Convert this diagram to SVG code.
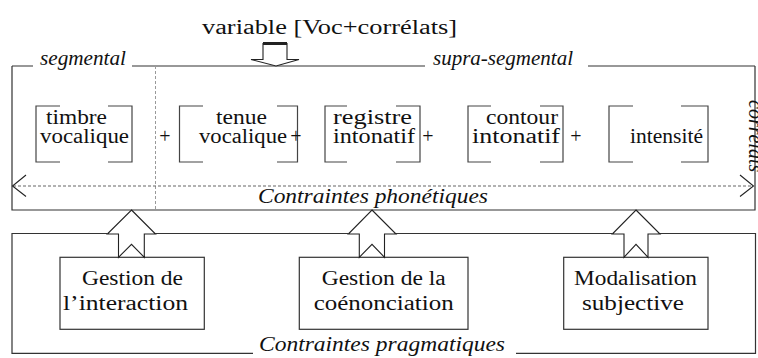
<svg xmlns="http://www.w3.org/2000/svg" width="758" height="358" viewBox="0 0 758 358">
<style>
.t{font-size:20px;fill:#111}
.it{font-style:italic}
.fr{fill:none;stroke:#333;stroke-width:1.2}
.br{fill:none;stroke:#444;stroke-width:1.2}
.box{fill:#fff;stroke:#333;stroke-width:1.2}
.blk{fill:#fff;stroke:#222;stroke-width:1.1;stroke-linejoin:miter}
.dash{fill:none;stroke:#999;stroke-width:1;stroke-dasharray:3 2}
.dot{fill:none;stroke:#666;stroke-width:1.2;stroke-dasharray:3 2}
.ah{fill:none;stroke:#222;stroke-width:1.1}
</style>
<g font-family="'Liberation Serif', 'Times New Roman', serif">
<g id="title">
<text class="t" x="202" y="34" textLength="255" lengthAdjust="spacingAndGlyphs">variable [Voc+corrélats]</text>
</g>

<g id="phonetic-frame">
<path class="fr" d="M12,66 H33 M132,66 H425 M588,66 H755 M12,66 V210 H755 V66"/>
<line class="dash" x1="155.5" y1="66" x2="155.5" y2="210"/>
<text class="t it" x="40" y="65" font-size="18" textLength="86" lengthAdjust="spacingAndGlyphs">segmental</text>
<text class="t it" x="433" y="65" font-size="18" textLength="140" lengthAdjust="spacingAndGlyphs">supra-segmental</text>
<text class="t it" x="258" y="203" textLength="230" lengthAdjust="spacingAndGlyphs">Contraintes phonétiques</text>
<text class="t it" transform="translate(749,100) rotate(90)">corrélats</text>
</g>

<g id="timbre">
<path class="br" d="M60,106 H36 V162 H60 M108,106 H132 V162 H108"/>
<text class="t" x="46" y="124" textLength="61" lengthAdjust="spacingAndGlyphs">timbre</text>
<text class="t" x="40" y="143" textLength="89" lengthAdjust="spacingAndGlyphs">vocalique</text>
</g>
<text class="t" x="165" y="143" text-anchor="middle">+</text>

<g id="tenue">
<path class="br" d="M203,106 H179.5 V162 H203 M277,106 H297.5 V162 H277"/>
<text class="t" x="216" y="124" textLength="51" lengthAdjust="spacingAndGlyphs">tenue</text>
<text class="t" x="199" y="143" textLength="88" lengthAdjust="spacingAndGlyphs">vocalique</text>
</g>
<text class="t" x="296" y="143" text-anchor="middle">+</text>

<g id="registre">
<path class="br" d="M347,106 H325 V162 H347 M396,106 H420 V162 H396"/>
<text class="t" x="333" y="124" textLength="79" lengthAdjust="spacingAndGlyphs">registre</text>
<text class="t" x="333" y="143" textLength="82" lengthAdjust="spacingAndGlyphs">intonatif</text>
</g>
<text class="t" x="428" y="143" text-anchor="middle">+</text>

<g id="contour">
<path class="br" d="M491,106 H468 V162 H491 M540,106 H563 V162 H540"/>
<text class="t" x="486" y="124" textLength="72" lengthAdjust="spacingAndGlyphs">contour</text>
<text class="t" x="472" y="143" textLength="88" lengthAdjust="spacingAndGlyphs">intonatif</text>
</g>
<text class="t" x="576" y="143" text-anchor="middle">+</text>

<g id="intensite">
<path class="br" d="M633,106 H609 V162 H633 M681,106 H708 V162 H681"/>
<text class="t" x="630" y="143" textLength="73" lengthAdjust="spacingAndGlyphs">intensité</text>
</g>

<g id="pragmatic-frame">
<path class="fr" d="M107.3,233.5 H12 V353.3 H253 M516,353.3 H755.5 V233.5 H660 M612.3,233.5 H396 M348.3,233.5 H155"/>
<text class="t it" x="259" y="351" textLength="246" lengthAdjust="spacingAndGlyphs">Contraintes pragmatiques</text>
</g>

<g id="gestion-interaction">
<rect class="box" x="60" y="257.3" width="144.3" height="72"/>
<text class="t" x="82" y="285" textLength="101" lengthAdjust="spacingAndGlyphs">Gestion de</text>
<text class="t" x="63" y="310" textLength="125" lengthAdjust="spacingAndGlyphs">l’interaction</text>
</g>

<g id="gestion-coenonciation">
<rect class="box" x="299.3" y="257.3" width="168.7" height="72"/>
<text class="t" x="383.7" y="285" text-anchor="middle" textLength="124" lengthAdjust="spacingAndGlyphs">Gestion de la</text>
<text class="t" x="383.7" y="310" text-anchor="middle" textLength="140" lengthAdjust="spacingAndGlyphs">coénonciation</text>
</g>

<g id="modalisation">
<rect class="box" x="563.7" y="257.3" width="144.3" height="72"/>
<text class="t" x="574" y="285" textLength="123" lengthAdjust="spacingAndGlyphs">Modalisation</text>
<text class="t" x="582" y="310" textLength="102" lengthAdjust="spacingAndGlyphs">subjective</text>
</g>
</g>
<g id="connectors">
<polygon class="blk" points="263,43.5 287,43.5 287,59.5 299,59.5 276,66 251,59.5 263,59.5"/>
<line x1="263" y1="43.5" x2="287" y2="43.5" stroke="#222" stroke-width="3"/>
<polygon class="blk" points="131.5,210 155.5,234 144.3,234 144.3,257.3 131.5,244.3 118.5,257.3 118.5,234 107.3,234"/>
<polygon class="blk" points="372,210 396,234 384.5,234 384.5,257.3 372,244.3 359.3,257.3 359.3,234 348.3,234"/>
<polygon class="blk" points="636,210 660,234 648,234 648,257.3 636,244.3 624,257.3 624,234 612.3,234"/>
<line class="dot" x1="13" y1="186" x2="753" y2="186"/>
<path class="ah" d="M26,175 L12.5,186 L26,196.5 M740,175 L753.5,186 L740,196.5"/>
</g>
</svg>
